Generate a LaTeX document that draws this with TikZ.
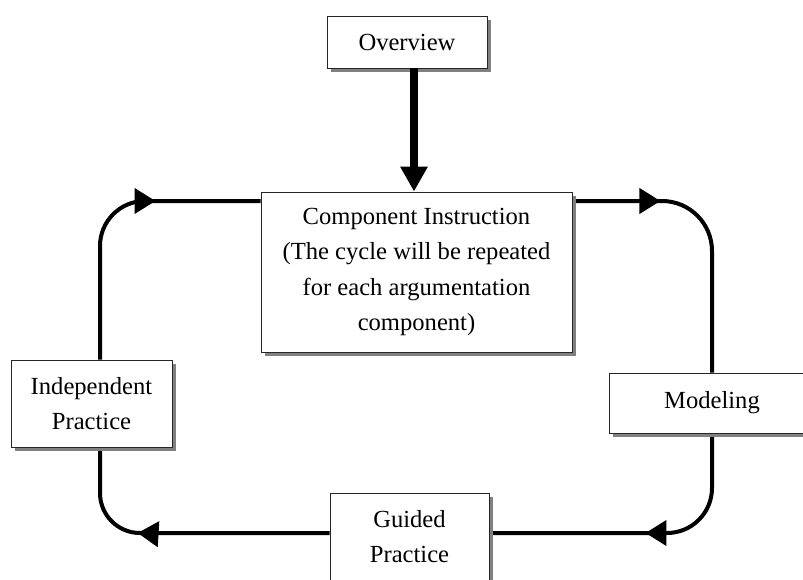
\documentclass[tikz,border=0pt]{standalone}
\usepackage{fontspec}
\setmainfont{Liberation Serif}
\usetikzlibrary{arrows.meta,shadows,decorations.markings,backgrounds}
\tikzset{
  box/.style={draw=black!85, line width=0.9pt, fill=white, inner sep=0pt,
    align=center, font=\fontsize{24.6pt}{35.5pt}\selectfont,
    drop shadow={shadow xshift=4pt, shadow yshift=-4pt, fill=black!50, opacity=1}},
  loopline/.style={line width=4pt, draw=black},
  tipmark/.style={postaction={decorate}, decoration={markings,
    mark=at position #1 with {\arrow{Triangle[length=21pt,width=25pt]}}}},
  bigarrow/.style={line width=8pt, -{Triangle[length=25pt,width=26pt]}}
}
\begin{document}
\begin{tikzpicture}[x=1pt,y=-1pt]
\useasboundingbox (0,0) rectangle (803,579);
\node[box, minimum width=160pt, minimum height=52pt] (ov) at (407,42) {Overview};
\node[box, minimum width=311pt, minimum height=160pt] (comp) at (416.5,272)
  {Component Instruction\\(The cycle will be repeated\\for each argumentation\\component)};
\node[box, minimum width=161pt, minimum height=87pt] (ind) at (91.5,403.5) {Independent\\Practice};
\node[box, minimum width=206pt, minimum height=60pt] (mod) at (712,403) {Modeling};
\node[box, minimum width=159pt, minimum height=87pt] (gui) at (409.5,536.5) {Guided\\Practice};
\begin{scope}[on background layer]
\draw[loopline, rounded corners=45pt, tipmark=-105pt] ([xshift=8.5pt]ind.north) |- ([yshift=71pt]comp.west);
\draw[loopline, rounded corners=50pt, tipmark=88pt] ([yshift=71pt]comp.east) -| (mod.north);
\draw[loopline, rounded corners=45pt, tipmark=-156pt] (mod.south) |- ([yshift=3.5pt]gui.east);
\draw[loopline, rounded corners=40pt, tipmark=192pt] ([yshift=3.5pt]gui.west) -| ([xshift=8.5pt]ind.south);
\end{scope}
\draw[bigarrow] ([xshift=7pt]ov.south) -- ([xshift=7pt]ov.south |- comp.north);
\end{tikzpicture}
\end{document}
